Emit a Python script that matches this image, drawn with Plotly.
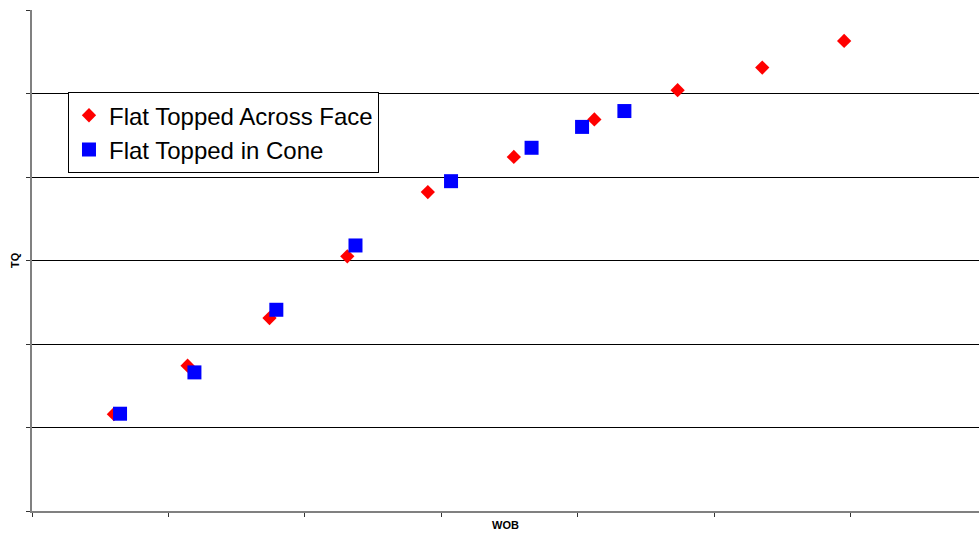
import plotly.graph_objects as go

# Data (arbitrary units: WOB grid step = 1, TQ grid step = 1)
across_wob = [0.60, 1.14, 1.74, 2.31, 2.90, 3.53, 4.12, 4.73, 5.35, 5.95]
across_tq  = [1.16, 1.74, 2.31, 3.05, 3.82, 4.24, 4.69, 5.04, 5.31, 5.63]
cone_wob = [0.645, 1.19, 1.79, 2.37, 3.07, 3.66, 4.03, 4.34]
cone_tq  = [1.165, 1.66, 2.41, 3.18, 3.95, 4.35, 4.60, 4.79]

fig = go.Figure()
fig.add_trace(go.Scatter(x=across_wob, y=across_tq, mode="markers",
                         name="Flat Topped Across Face",
                         marker=dict(symbol="diamond", size=11, color="#ff0000", line=dict(width=0))))
fig.add_trace(go.Scatter(x=cone_wob, y=cone_tq, mode="markers",
                         name="Flat Topped in Cone",
                         marker=dict(symbol="square", size=14, color="#0000ff", line=dict(width=0))))

fig.update_layout(
    width=979, height=533,
    margin=dict(l=32, r=0, t=10, b=22, autoexpand=False),
    paper_bgcolor="white", plot_bgcolor="white",
    font=dict(family="Liberation Sans, Arial, sans-serif", color="black"),
    showlegend=True,
    legend=dict(x=0.038, y=0.836, xanchor="left", yanchor="top",
                bgcolor="white", bordercolor="black", borderwidth=1,
                font=dict(size=24, family="Liberation Sans, Arial, sans-serif"),
                tracegroupgap=0),
    xaxis=dict(range=[0, 6.938], dtick=1, tick0=0, showgrid=False, zeroline=False,
               showline=True, linecolor="#808080", linewidth=2,
               ticks="outside", ticklen=4, tickcolor="#333333", tickwidth=1,
               showticklabels=False, automargin=False),
    yaxis=dict(range=[0, 6], dtick=1, tick0=0, showgrid=True, gridcolor="black", gridwidth=1,
               zeroline=False, showline=True, linecolor="#808080", linewidth=2,
               ticks="outside", ticklen=4, tickcolor="#333333", tickwidth=1,
               showticklabels=False, automargin=False),
    annotations=[
        dict(text="<b>WOB</b>", xref="paper", yref="paper", x=0.5, y=-0.012,
             xanchor="center", yanchor="top", showarrow=False, font=dict(size=11)),
        dict(text="<b>TQ</b>", xref="paper", yref="paper", x=-0.01, y=0.5,
             xanchor="right", yanchor="middle", textangle=-90, showarrow=False,
             font=dict(size=11)),
    ],
)

# Remove the default 8px page margin so the 979x533 figure fills the window exactly.
fig.write_html("out.html",
               config={"displayModeBar": False},
               post_script="document.body.style.margin='0';document.body.style.overflow='hidden';")
